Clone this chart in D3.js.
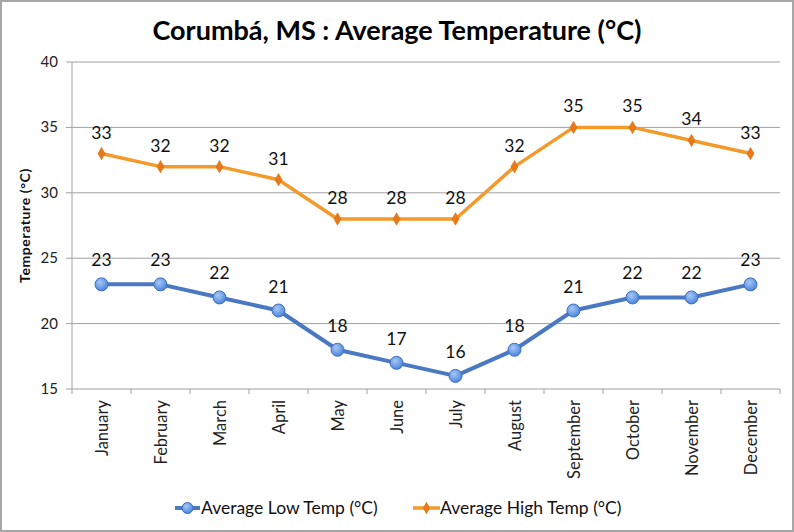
<!DOCTYPE html>
<html><head><meta charset="utf-8">
<script src="https://cdn.jsdelivr.net/npm/d3@7"></script>
<style>body{margin:0;background:#fff;}svg{display:block;}</style>
</head><body>
<svg id="chart" width="794" height="532"></svg>
<script>
const months = ["January","February","March","April","May","June","July","August","September","October","November","December"];
const lowTemps = [23,23,22,21,18,17,16,18,21,22,22,23];
const highTemps = [33,32,32,31,28,28,28,32,35,35,34,33];
const yTicks = [15,20,25,30,35,40];
const seriesNames = ["Average Low Temp (°C)","Average High Temp (°C)"];

const svg = d3.select("#chart");
const W = 794, H = 532;
const m = {left:72, right:780, top:62, bottom:389};
const font = "Lato, 'Open Sans', sans-serif";

svg.append("rect").attr("x",1).attr("y",1).attr("width",W-2).attr("height",H-2)
  .attr("fill","#fff").attr("stroke","#a6a6a6").attr("stroke-width",2);

const x = d3.scaleBand().domain(months).range([m.left,m.right]);
const y = d3.scaleLinear().domain([15,40]).range([m.bottom,m.top]);

// gridlines
svg.append("g").selectAll("line").data(yTicks).join("line")
  .attr("x1",m.left-6).attr("x2",m.right).attr("y1",d=>y(d)).attr("y2",d=>y(d))
  .attr("stroke","#a0a0a0").attr("stroke-width",1);

// y axis line
svg.append("line").attr("x1",m.left).attr("x2",m.left).attr("y1",m.top).attr("y2",m.bottom)
  .attr("stroke","#a0a0a0");

// y tick labels
svg.append("g").selectAll("text").data(yTicks).join("text")
  .attr("x",m.left-14).attr("y",d=>y(d)+5).attr("text-anchor","end")
  .attr("font-family",font).attr("font-size",15).attr("fill","#222").text(d=>d);

// x axis ticks
const xTickPos = months.map(mo=>x(mo)).concat([m.right]);
svg.append("g").selectAll("line").data(xTickPos).join("line")
  .attr("x1",d=>d).attr("x2",d=>d).attr("y1",m.bottom).attr("y2",m.bottom+5)
  .attr("stroke","#a0a0a0");

// month labels
svg.append("g").selectAll("text").data(months).join("text")
  .attr("transform",d=>`translate(${x(d)+x.bandwidth()/2+6},${m.bottom+11}) rotate(-90)`)
  .attr("text-anchor","end").attr("font-family",font).attr("font-size",16.5).attr("fill","#222")
  .text(d=>d);

// y axis title
svg.append("text").attr("transform",`translate(30,${(m.top+m.bottom)/2}) rotate(-90)`)
  .attr("text-anchor","middle").attr("font-family",font).attr("font-weight","bold")
  .attr("font-size",14).attr("letter-spacing",0.6).attr("fill","#111").text("Temperature (°C)");

// title
svg.append("text").attr("x",397).attr("y",40).attr("text-anchor","middle")
  .attr("font-family",font).attr("font-weight","bold").attr("font-size",27).attr("fill","#000")
  .text("Corumbá, MS : Average Temperature (°C)");

const cx = d=>x(d)+x.bandwidth()/2;
const line = d3.line().x((d,i)=>cx(months[i])).y(d=>y(d));

const defs = svg.append("defs");
const grad = defs.append("radialGradient").attr("id","bg").attr("cx","40%").attr("cy","35%").attr("r","65%");
grad.append("stop").attr("offset","0%").attr("stop-color","#a9c8f5");
grad.append("stop").attr("offset","100%").attr("stop-color","#4a86e0");

// high series
svg.append("path").datum(highTemps).attr("d",line).attr("fill","none")
  .attr("stroke","#f39a2b").attr("stroke-width",3.5).attr("stroke-linejoin","round");
const diamond = d3.symbol().type(d3.symbolDiamond).size(45);
svg.append("g").selectAll("path").data(highTemps).join("path")
  .attr("d",diamond).attr("transform",(d,i)=>`translate(${cx(months[i])},${y(d)})`)
  .attr("fill","#e8791a").attr("stroke","#d9700f").attr("stroke-width",0.5);
svg.append("g").selectAll("text").data(highTemps).join("text")
  .attr("x",(d,i)=>cx(months[i])).attr("y",d=>y(d)-15).attr("text-anchor","middle")
  .attr("font-family",font).attr("font-size",17.5).attr("fill","#111").text(d=>d);

// low series
svg.append("path").datum(lowTemps).attr("d",line).attr("fill","none")
  .attr("stroke","#4b78c2").attr("stroke-width",4).attr("stroke-linejoin","round");
svg.append("g").selectAll("circle").data(lowTemps).join("circle")
  .attr("cx",(d,i)=>cx(months[i])).attr("cy",d=>y(d)).attr("r",6.5)
  .attr("fill","url(#bg)").attr("stroke","#3f6fc0").attr("stroke-width",1);
svg.append("g").selectAll("text").data(lowTemps).join("text")
  .attr("x",(d,i)=>cx(months[i])).attr("y",d=>y(d)-18).attr("text-anchor","middle")
  .attr("font-family",font).attr("font-size",17.5).attr("fill","#111").text(d=>d);

// legend
const lg = svg.append("g");
const ly = 508;
lg.append("line").attr("x1",175).attr("x2",200).attr("y1",ly).attr("y2",ly).attr("stroke","#4b78c2").attr("stroke-width",4);
lg.append("circle").attr("cx",187.5).attr("cy",ly).attr("r",5.5).attr("fill","url(#bg)").attr("stroke","#3f6fc0");
lg.append("text").attr("x",201).attr("y",ly+6).attr("font-family",font).attr("font-size",17.5).attr("fill","#111").text(seriesNames[0]);
lg.append("line").attr("x1",413).attr("x2",440).attr("y1",ly).attr("y2",ly).attr("stroke","#f39a2b").attr("stroke-width",3.5);
lg.append("path").attr("d",diamond).attr("transform",`translate(426.5,${ly})`).attr("fill","#e8791a");
lg.append("text").attr("x",440).attr("y",ly+6).attr("font-family",font).attr("font-size",17.5).attr("fill","#111").text(seriesNames[1]);
</script>
</body></html>
